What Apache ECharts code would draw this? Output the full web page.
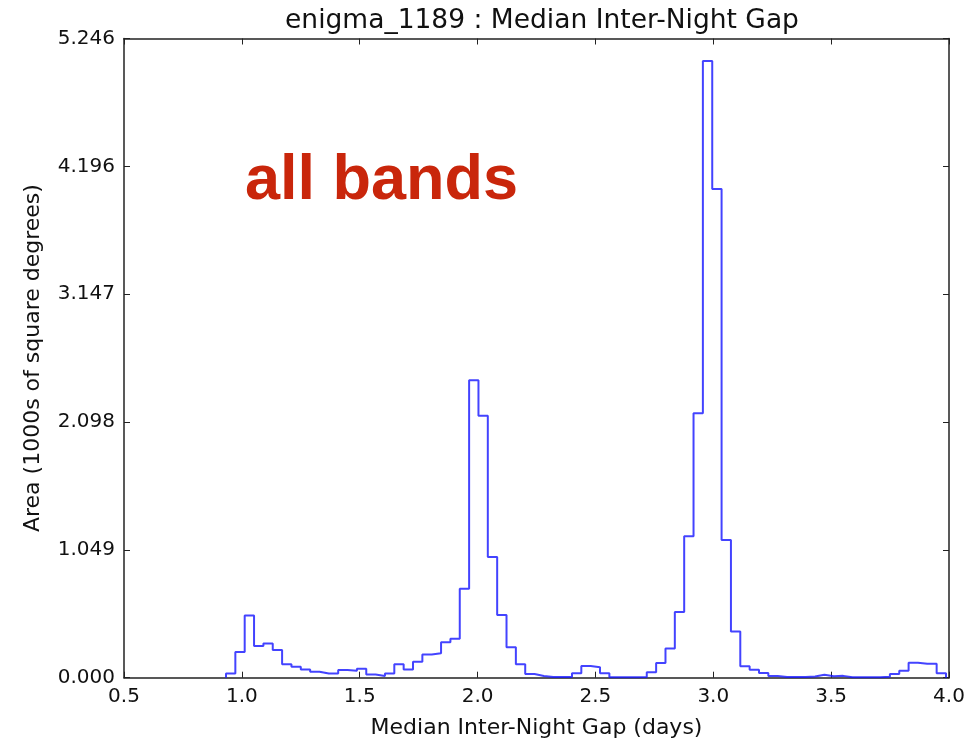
<!DOCTYPE html>
<html>
<head>
<meta charset="utf-8">
<script src="https://cdn.jsdelivr.net/npm/echarts@6/dist/echarts.min.js"></script>
<style>
html,body{margin:0;padding:0;background:#fff;}
#chart{width:971px;height:743px;}
</style>
</head>
<body>
<div id="chart"></div>
<script>
// Histogram bins: first edge and bin width (days)
const binStart = 0.9327;
const binWidth = 0.03967;
// Area per bin (1000s of square degrees)
const areaValues = [
  0.035, 0.21, 0.51, 0.26, 0.28, 0.227, 0.11, 0.09, 0.068, 0.049,
  0.035, 0.035, 0.063, 0.057, 0.074, 0.027, 0.014, 0.035, 0.11, 0.068,
  0.13, 0.19, 0.20, 0.29, 0.32, 0.73, 2.44, 2.15, 0.99, 0.515,
  0.25, 0.11, 0.03, 0.014, 0.005, 0.005, 0.005, 0.036, 0.096, 0.085,
  0.036, 0.004, 0.004, 0.004, 0.005, 0.045, 0.12, 0.24, 0.54, 1.16,
  2.17, 5.06, 4.01, 1.13, 0.38, 0.094, 0.066, 0.038, 0.014, 0.005,
  0.005, 0.005, 0.01, 0.025, 0.012, 0.015, 0.004, 0.004, 0.004, 0.004,
  0.008, 0.03, 0.058, 0.123, 0.115, 0.115, 0.036
];
const xTicks = [0.5, 1.0, 1.5, 2.0, 2.5, 3.0, 3.5, 4.0];
const yTickLabels = ['0.000', '1.049', '2.098', '3.147', '4.196', '5.246'];
const yInterval = 1.04911;

const titleText = 'enigma_1189 : Median Inter-Night Gap';
const xName = 'Median Inter-Night Gap (days)';
const yName = 'Area (1000s of square degrees)';
const noteText = 'all bands';

// step outline built from bins
const pts = [];
const n = areaValues.length;
pts.push([binStart, 0]);
for (let i = 0; i < n; i++) {
  const e0 = binStart + i * binWidth;
  const e1 = binStart + (i + 1) * binWidth;
  pts.push([e0, areaValues[i]]);
  pts.push([e1, areaValues[i]]);
}
pts.push([binStart + n * binWidth, 0]);

const FONT = '"DejaVu Sans", sans-serif';
const axisLineStyle = {color: '#222', width: 1.5};
const yMax = yInterval * 5;

function yLabel(v) {
  const idx = Math.round(v / yInterval);
  return yTickLabels[idx] !== undefined ? yTickLabels[idx] : '';
}

const chart = echarts.init(document.getElementById('chart'), null, {renderer: 'canvas'});
chart.setOption({
  animation: false,
  backgroundColor: '#fff',
  title: {
    text: titleText,
    left: 537,
    top: 3,
    textAlign: 'center',
    textStyle: {fontFamily: FONT, fontSize: 26.5, fontWeight: 'normal', color: '#111'}
  },
  grid: {left: 124, right: 22, top: 38.5, bottom: 65.3, containLabel: false, outerBoundsMode: 'none'},
  xAxis: [
    {
      type: 'value', min: xTicks[0], max: xTicks[xTicks.length - 1], interval: 0.5,
      position: 'bottom',
      name: xName, nameLocation: 'middle', nameGap: 40,
      nameTextStyle: {fontFamily: FONT, fontSize: 22, color: '#111'},
      axisLine: {show: true, onZero: false, lineStyle: axisLineStyle},
      axisTick: {show: true, inside: true, length: 6, lineStyle: {color: '#222', width: 1}},
      axisLabel: {fontFamily: FONT, fontSize: 20, color: '#111', margin: 9,
        formatter: v => v.toFixed(1)},
      splitLine: {show: false}
    },
    {
      type: 'value', min: xTicks[0], max: xTicks[xTicks.length - 1], interval: 0.5,
      position: 'top',
      axisLine: {show: true, onZero: false, lineStyle: axisLineStyle},
      axisTick: {show: true, inside: true, length: 6, lineStyle: {color: '#222', width: 1}},
      axisLabel: {show: false},
      splitLine: {show: false}
    }
  ],
  yAxis: [
    {
      type: 'value', min: 0, max: yMax, interval: yInterval,
      position: 'left',
      name: yName, nameLocation: 'middle', nameGap: 80,
      nameTextStyle: {fontFamily: FONT, fontSize: 22, color: '#111'},
      axisLine: {show: true, onZero: false, lineStyle: axisLineStyle},
      axisTick: {show: true, inside: true, length: 6, lineStyle: {color: '#222', width: 1}},
      axisLabel: {fontFamily: FONT, fontSize: 20, color: '#111', margin: 9, formatter: yLabel},
      splitLine: {show: false}
    },
    {
      type: 'value', min: 0, max: yMax, interval: yInterval,
      position: 'right',
      axisLine: {show: true, onZero: false, lineStyle: axisLineStyle},
      axisTick: {show: true, inside: true, length: 6, lineStyle: {color: '#222', width: 1}},
      axisLabel: {show: false},
      splitLine: {show: false}
    }
  ],
  graphic: [
    {
      type: 'text',
      left: 245,
      top: 150,
      style: {
        text: noteText,
        font: 'bold 63px "Liberation Sans", Arial, sans-serif',
        fill: '#c9260b'
      }
    }
  ],
  series: [
    {
      type: 'line',
      xAxisIndex: 0,
      yAxisIndex: 0,
      data: pts,
      showSymbol: false,
      symbol: 'none',
      clip: true,
      lineStyle: {color: 'rgba(20,20,255,0.8)', width: 2},
      z: 1
    }
  ]
});
</script>
</body>
</html>
